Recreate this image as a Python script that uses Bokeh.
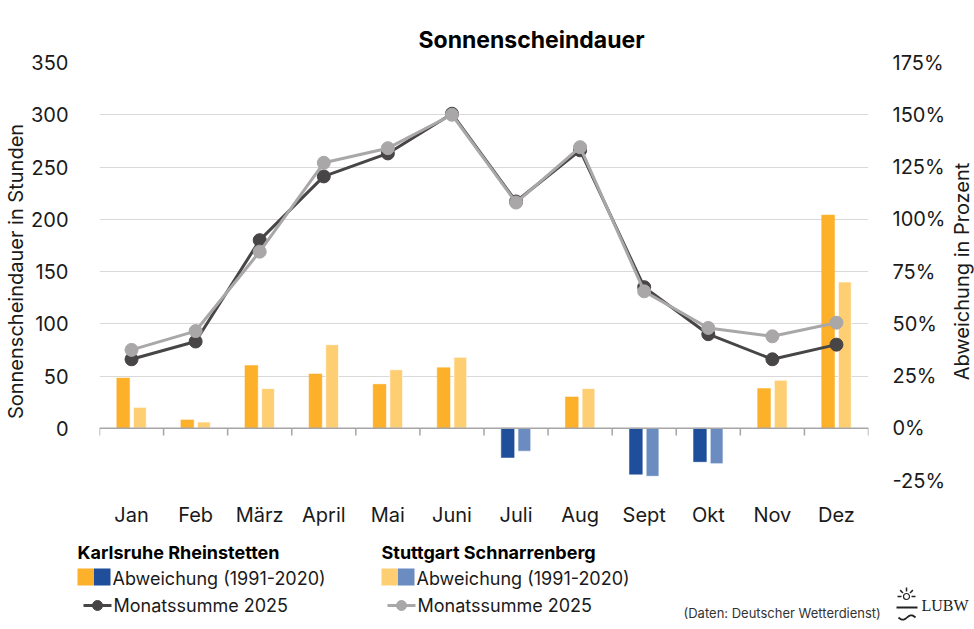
import numpy as np
from bokeh.plotting import figure
from bokeh.models import Range1d, LinearAxis, FixedTicker, PrintfTickFormatter, Span
from bokeh.layouts import column, row
from bokeh.core.properties import value
from bokeh.embed import file_html
from bokeh.resources import INLINE

months = ["Jan", "Feb", "März", "April", "Mai", "Juni", "Juli", "Aug", "Sept", "Okt", "Nov", "Dez"]
# Monatssumme 2025 (Stunden)
ka_hours = [66, 83, 180, 241, 263, 301, 217, 266, 135, 90, 66, 80]
st_hours = [75, 93, 169, 254, 268, 300, 216, 269, 131, 96, 88, 101]
# Abweichung zum Mittel 1991-2020 (Prozent)
ka_dev = [24, 4, 30, 26, 21, 29, -14, 15, -22, -16, 19, 102]
st_dev = [10, 3, 19, 40, 28, 34, -11, 19, -23, -17, 23, 70]
left_ticks = [0, 50, 100, 150, 200, 250, 300, 350]
right_ticks = [-25, 0, 25, 50, 75, 100, 125, 150, 175]

FONT = "Inter"
TXT = "#1a1a1a"
KA_POS, KA_NEG = "#FDB02A", "#1F4E9B"
ST_POS, ST_NEG = "#FECE73", "#6B8CC0"
KA_LINE, ST_LINE = "#474545", "#A9A7A7"

x = np.arange(len(months))

p = figure(width=949, height=535, x_range=Range1d(-0.5, 11.5), y_range=Range1d(-50, 350),
           output_backend="svg", toolbar_location=None,
           min_border_left=99, min_border_right=81, min_border_top=62, min_border_bottom=55)
p.frame_align = False
p.outline_line_color = None
p.extra_y_ranges = {"pct": Range1d(-25, 175)}

p.title.text = "Sonnenscheindauer"
p.title.text_font = FONT
p.title.text_font_size = "23px"
p.title.text_font_style = "bold"
p.title.align = "left"
p.title.offset = 319
p.title.standoff = 18
p.title.text_color = "#000000"

# grid
p.xgrid.visible = False
p.ygrid.ticker = FixedTicker(ticks=[-50] + left_ticks)
p.ygrid.grid_line_color = "#d9d9d9"
p.ygrid.grid_line_width = 1

# left axis
la = p.yaxis[0]
la.ticker = FixedTicker(ticks=left_ticks)
la.axis_label = "Sonnenscheindauer in Stunden"

# right axis (its title is drawn in a narrow panel to the right, reading bottom to top)
ra = LinearAxis(y_range_name="pct", ticker=FixedTicker(ticks=right_ticks),
                formatter=PrintfTickFormatter(format="%d%%"))
p.add_layout(ra, "right")

# bottom axis
ba = p.xaxis[0]
ba.ticker = FixedTicker(ticks=list(x))
ba.major_label_overrides = {int(i): m for i, m in zip(x, months)}

for ax in [la, ra, ba]:
    ax.axis_line_color = None
    ax.major_tick_line_color = None
    ax.minor_tick_line_color = None
    ax.major_label_text_font = FONT
    ax.major_label_text_font_size = "20px"
    ax.major_label_text_color = TXT
    ax.axis_label_text_font = FONT
    ax.axis_label_text_font_size = "20px"
    ax.axis_label_text_font_style = "normal"
    ax.axis_label_text_color = TXT
la.major_label_standoff = 25
la.axis_label_standoff = 0
ra.major_label_standoff = 18
ba.major_label_standoff = 16

# zero line with category ticks
p.add_layout(Span(location=0, dimension="width", line_color="#a6a6a6", line_width=1.5))
bounds = np.arange(len(months) + 1) - 0.5
p.segment(x0=bounds, y0=0, x1=bounds, y1=-7, line_color="#a6a6a6", line_width=1.5)

# bars
ka_col = [KA_POS if v >= 0 else KA_NEG for v in ka_dev]
st_col = [ST_POS if v >= 0 else ST_NEG for v in st_dev]
p.vbar(x=x - 0.13, top=ka_dev, bottom=0, width=0.2, fill_color=ka_col, line_color=ka_col,
       line_width=0.5, y_range_name="pct")
p.vbar(x=x + 0.13, top=st_dev, bottom=0, width=0.2, fill_color=st_col, line_color="white",
       line_width=0.7, y_range_name="pct")

# lines
p.line(x, ka_hours, line_color=KA_LINE, line_width=3)
p.scatter(x, ka_hours, size=13, fill_color=KA_LINE, line_color=KA_LINE)
p.line(x, st_hours, line_color=ST_LINE, line_width=3)
p.scatter(x, st_hours, size=13, fill_color=ST_LINE, line_color=ST_LINE)

# ---- right axis title panel ----
side = figure(width=25, height=535, x_range=Range1d(0, 25), y_range=Range1d(535, 0),
              output_backend="svg", toolbar_location=None,
              x_axis_location=None, y_axis_location=None,
              min_border=0, min_border_left=0, min_border_right=0, min_border_top=0, min_border_bottom=0)
side.frame_align = False
side.outline_line_color = None
side.grid.visible = False
side.text(x=[12.5], y=[271], text=["Abweichung in Prozent"], angle=np.pi / 2,
          text_font=value(FONT), text_font_size="20px", text_align="center",
          text_baseline="middle", text_color=TXT)

# ---- legend area ----
lg = figure(width=974, height=94, x_range=Range1d(0, 974), y_range=Range1d(94, 0),
            output_backend="svg", toolbar_location=None,
            x_axis_location=None, y_axis_location=None,
            min_border=0, min_border_left=0, min_border_right=0, min_border_top=0, min_border_bottom=0)
lg.frame_align = False
lg.outline_line_color = None
lg.grid.visible = False

groups = [
    ("Karlsruhe Rheinstetten", 77, KA_POS, KA_NEG, KA_LINE),
    ("Stuttgart Schnarrenberg", 381, ST_POS, ST_NEG, ST_LINE),
]
for name, x0, cpos, cneg, cline in groups:
    lg.text(x=[x0], y=[17], text=[name], text_font=value(FONT), text_font_size="18px",
            text_font_style="bold", text_baseline="middle", text_color="#000000")
    lg.quad(left=[x0], right=[x0 + 16.5], top=[33], bottom=[50], fill_color=cpos, line_color=None)
    lg.quad(left=[x0 + 16.5], right=[x0 + 33], top=[33], bottom=[50], fill_color=cneg, line_color=None)
    lg.text(x=[x0 + 35], y=[43], text=["Abweichung (1991-2020)"], text_font=value(FONT),
            text_font_size="18px", text_baseline="middle", text_color=TXT)
    lg.line([x0 + 6, x0 + 34], [70, 70], line_color=cline, line_width=3)
    lg.scatter([x0 + 20], [70], size=10, fill_color=cline, line_color=cline)
    lg.text(x=[x0 + 36], y=[70], text=["Monatssumme 2025"], text_font=value(FONT),
            text_font_size="18px", text_baseline="middle", text_color=TXT)

lg.text(x=[683], y=[77], text=["(Daten: Deutscher Wetterdienst)"], text_font=value(FONT),
        text_font_size="13px", text_baseline="middle", text_color="#333333")

# LUBW logo (approximation)
cx, cy = 906, 61
lg.scatter([cx], [cy], size=6, fill_color="white", line_color="#222222", line_width=1.2)
ang = np.array([0, 45, 90, 135, 180]) * np.pi / 180
r0, r1 = 5, 9
lg.segment(x0=cx + r0 * np.cos(ang), y0=cy - r0 * np.sin(ang), x1=cx + r1 * np.cos(ang),
           y1=cy - r1 * np.sin(ang), line_color="#222222", line_width=1.5)
lg.segment(x0=[896], y0=[72], x1=[917], y1=[72], line_color="#222222", line_width=1.8)
wx = np.linspace(898, 915, 20)
lg.line(wx, 82 + 2.2 * np.sin((wx - 898) / 17 * 2 * np.pi), line_color="#222222", line_width=1.8)
lg.text(x=[921], y=[70], text=["LUBW"], text_font=value("Liberation Sans Narrow"),
        text_font_size="16px", text_baseline="middle", text_color="#222222")

layout = column(row(p, side, spacing=0), lg, spacing=0)
open("out.html", "w").write(file_html(layout, INLINE))
